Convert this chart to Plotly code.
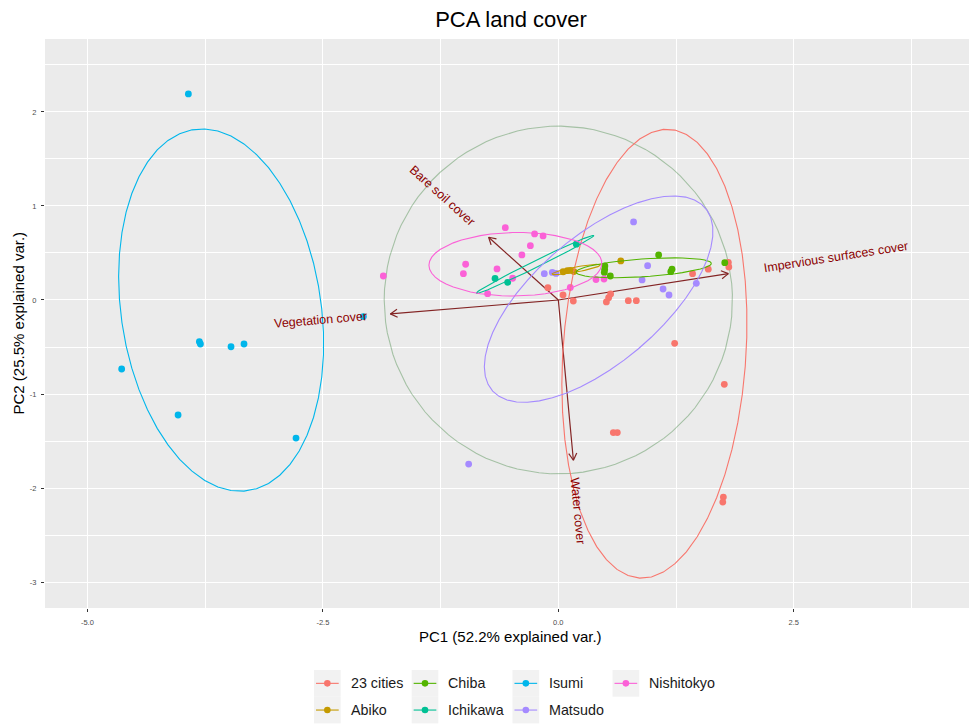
import math
import numpy as np
import plotly.graph_objects as go

# ---------------------------------------------------------------- data
groups = ["23 cities", "Abiko", "Chiba", "Ichikawa", "Isumi", "Matsudo", "Nishitokyo"]
group_colors = ["#F8766D", "#C49A00", "#53B400", "#00C094", "#00B6EB", "#A58AFF", "#FB61D7"]

# PCA scores of the sampled sites, one pair of lists per group
pc1_cities23 = [-0.111, 0.050, 0.159, 0.510, 0.534, 0.555, 0.743, 0.828, 1.235,
                1.425, 1.592, 1.805, 1.810, 1.762, 0.584, 0.626, 1.752, 1.746]
pc2_cities23 = [0.131, 0.053, -0.011, -0.021, 0.024, 0.064, -0.007, -0.007, -0.461,
                0.280, 0.328, 0.399, 0.351, -0.897, -1.410, -1.410, -2.096, -2.149]

pc1_abiko = [0.051, 0.096, 0.127, 0.165, 0.663]
pc2_abiko = [0.300, 0.313, 0.315, 0.302, 0.415]

pc1_chiba = [0.494, 0.492, 0.488, 0.552, 1.065, 1.207, 1.194, 1.767]
pc2_chiba = [0.362, 0.324, 0.293, 0.255, 0.479, 0.327, 0.301, 0.397]

pc1_ichikawa = [0.191, -0.672, -0.538]
pc2_ichikawa = [0.593, 0.229, 0.188]

pc1_isumi = [-3.928, -4.636, -4.037, -3.811, -3.800, -3.475, -3.337, -2.785, -2.070]
pc2_isumi = [2.191, -0.734, -1.223, -0.444, -0.468, -0.497, -0.468, -1.468, -0.176]

pc1_matsudo = [0.799, -0.149, -0.064, -0.024, 0.948, 0.889, 1.112, 1.175, 1.465, -0.952]
pc2_matsudo = [0.830, 0.280, 0.293, 0.282, 0.365, 0.213, 0.117, 0.053, 0.177, -1.745]

pc1_nishitokyo = [-0.563, -0.252, -0.162, -0.297, -0.387, -0.984, -1.008, -0.651,
                  -0.485, -0.751, 0.127, 0.400, 0.485, -1.858]
pc2_nishitokyo = [0.769, 0.702, 0.681, 0.578, 0.479, 0.380, 0.280, 0.330,
                  0.231, 0.067, 0.133, 0.218, 0.223, 0.255]

# normal-data ellipse statistics per group (same order as `groups`)
ell_mean_pc1 = [1.020, 0.189, 0.907, -0.248, -3.580, 0.428, -0.456]
ell_mean_pc2 = [-0.571, 0.324, 0.342, 0.378, -0.107, 0.009, 0.380]
ell_sd_pc1 = [0.651, 0.170, 0.475, 0.413, 0.721, 0.804, 0.608]
ell_sd_pc2 = [1.581, 0.036, 0.070, 0.204, 1.276, 0.727, 0.224]
ell_rho = [0.136, 0.867, 0.442, 0.992, -0.185, 0.655, 0.032]

# variable loadings (arrow ends in score units)
var_names = ["Bare soil cover", "Impervious surfaces cover", "Vegetation cover", "Water cover"]
var_pc1 = [-0.740, 1.805, -1.783, 0.160]
var_pc2 = [0.667, 0.280, -0.148, -1.704]

explained_var = [52.2, 25.5]

x_breaks = [-5.0, -2.5, 0.0, 2.5]
y_breaks = [-3, -2, -1, 0, 1, 2]

# ---------------------------------------------------------------- layout
W, H = 969, 724
M = dict(l=45, r=0, t=39, b=116)
x_range = [-5.45, 4.36]
y_range = [-3.275, 2.775]
ppx = (W - M["l"] - M["r"]) / (x_range[1] - x_range[0])
ppy = (H - M["t"] - M["b"]) / (y_range[1] - y_range[0])

FONT = "Liberation Sans, Arial, sans-serif"
ARROW_COL = "#832424"
LABEL_COL = "#8B0000"

# Arial advance widths (1/1000 em) for label sizing
AW = {" ": 278, "B": 667, "I": 278, "V": 667, "W": 944, "a": 556, "b": 556, "c": 500,
      "d": 556, "e": 556, "f": 278, "g": 556, "i": 222, "l": 222, "m": 833, "n": 556,
      "o": 556, "p": 556, "r": 333, "s": 500, "t": 278, "u": 556, "v": 500, "k": 500,
      "h": 556, "y": 500, "w": 722, "A": 667, "C": 722, "M": 833, "N": 722, "2": 556,
      "3": 556}


def text_w(s, size):
    return sum(AW.get(ch, 556) for ch in s) / 1000.0 * size


def px2paper_x(px):
    return (px - M["l"]) / (W - M["l"] - M["r"])


def py2paper_y(py):
    return (H - M["b"] - py) / (H - M["t"] - M["b"])


scores = [
    (pc1_cities23, pc2_cities23), (pc1_abiko, pc2_abiko), (pc1_chiba, pc2_chiba),
    (pc1_ichikawa, pc2_ichikawa), (pc1_isumi, pc2_isumi), (pc1_matsudo, pc2_matsudo),
    (pc1_nishitokyo, pc2_nishitokyo),
]

fig = go.Figure()

# correlation circle
circle_prob = 0.69
lam = [v / 100 * len(var_names) for v in explained_var]
rad = math.sqrt(-2 * math.log(1 - circle_prob)) * (lam[0] * lam[1]) ** 0.25
tc = np.linspace(-np.pi, np.pi, 100)
fig.add_trace(go.Scatter(x=rad * np.cos(tc), y=rad * np.sin(tc), mode="lines",
                         line=dict(color="rgba(60,130,60,0.40)", width=1.1),
                         hoverinfo="skip", showlegend=False))

# variable arrows: shaft from the origin plus an open head
arrow_x, arrow_y = [], []
head_px = 8.0
for vx, vy in zip(var_pc1, var_pc2):
    arrow_x += [0, vx, None]
    arrow_y += [0, vy, None]
    dx, dy = vx * ppx, vy * ppy
    L = math.hypot(dx, dy)
    ux, uy = dx / L, dy / L
    for sgn in (1, -1):
        a = math.radians(30) * sgn
        bx = -ux * math.cos(a) + uy * math.sin(a)
        by = -ux * math.sin(a) - uy * math.cos(a)
        arrow_x += [vx + bx * head_px / ppx, vx, None]
        arrow_y += [vy + by * head_px / ppy, vy, None]
fig.add_trace(go.Scatter(x=arrow_x, y=arrow_y, mode="lines",
                         line=dict(color=ARROW_COL, width=1.2),
                         hoverinfo="skip", showlegend=False))

# sample points
for g, col, (sx, sy) in zip(groups, group_colors, scores):
    fig.add_trace(go.Scatter(x=sx, y=sy, mode="markers", name=g,
                             marker=dict(color=col, size=6.8, line=dict(width=0)),
                             showlegend=False))

# group ellipses (68 % normal probability)
ed = math.sqrt(-2 * math.log(1 - 0.68))
te = np.linspace(-np.pi, np.pi, 50)
for g, col, mx, my, sdx, sdy, rho in zip(groups, group_colors, ell_mean_pc1, ell_mean_pc2,
                                         ell_sd_pc1, ell_sd_pc2, ell_rho):
    r11, r12, r22 = sdx, rho * sdy, sdy * math.sqrt(1 - rho ** 2)
    ex = mx + ed * np.cos(te) * r11
    ey = my + ed * (np.cos(te) * r12 + np.sin(te) * r22)
    fig.add_trace(go.Scatter(x=ex, y=ey, mode="lines", line=dict(color=col, width=1.1),
                             hoverinfo="skip", showlegend=False))

annotations = []
shapes = []

# variable names along the arrows
lab_size = 12.5
for name, vx, vy in zip(var_names, var_pc1, var_pc2):
    ang = math.degrees(math.atan(vy / vx))
    w = text_w(name, lab_size)
    off = 0.75 * w * (1 if vx > 0 else -1)
    annotations.append(dict(x=vx, y=vy, xref="x", yref="y", text=name, showarrow=False,
                            textangle=-ang, xanchor="center", yanchor="middle",
                            xshift=off * math.cos(math.radians(ang)),
                            yshift=off * math.sin(math.radians(ang)),
                            font=dict(family=FONT, size=lab_size, color=LABEL_COL)))

# axis titles
annotations.append(dict(x=px2paper_x(511), y=py2paper_y(636), xref="paper", yref="paper",
                        text=f"PC1 ({explained_var[0]}% explained var.)", showarrow=False,
                        xanchor="center", yanchor="middle",
                        font=dict(family=FONT, size=15, color="black")))
annotations.append(dict(x=px2paper_x(18), y=0.5, xref="paper", yref="paper",
                        text=f"PC2 ({explained_var[1]}% explained var.)", showarrow=False,
                        textangle=-90, xanchor="center", yanchor="middle",
                        font=dict(family=FONT, size=15, color="black")))

# legend (two rows, filled column by column)
leg_size = 14.3
key = 26.7
leg_left = 314
row_top = [670, 696.7]
ncol = math.ceil(len(groups) / 2)
col_x = []
xpos = leg_left
for c in range(ncol):
    col_x.append(xpos)
    items = groups[2 * c:2 * c + 2]
    xpos += key + 8 + max(text_w(t, leg_size) for t in items) + 10.5
for i, (g, col) in enumerate(zip(groups, group_colors)):
    c, r = i // 2, i % 2
    x0, y0 = col_x[c], row_top[r]
    shapes.append(dict(type="rect", xref="paper", yref="paper",
                       x0=px2paper_x(x0), x1=px2paper_x(x0 + key),
                       y0=py2paper_y(y0 + key), y1=py2paper_y(y0),
                       fillcolor="#F2F2F2", line=dict(width=0), layer="above"))
    cy = y0 + key / 2
    shapes.append(dict(type="line", xref="paper", yref="paper",
                       x0=px2paper_x(x0 + 2), x1=px2paper_x(x0 + key - 2),
                       y0=py2paper_y(cy), y1=py2paper_y(cy),
                       line=dict(color=col, width=1.1), layer="above"))
    shapes.append(dict(type="circle", xref="paper", yref="paper",
                       xsizemode="pixel", ysizemode="pixel",
                       xanchor=px2paper_x(x0 + key / 2), yanchor=py2paper_y(cy),
                       x0=-3.3, x1=3.3, y0=-3.3, y1=3.3,
                       fillcolor=col, line=dict(width=0), layer="above"))
    annotations.append(dict(x=px2paper_x(x0 + key + 8), y=py2paper_y(cy), xref="paper",
                            yref="paper", text=g, showarrow=False, xanchor="left",
                            yanchor="middle",
                            font=dict(family=FONT, size=leg_size, color="#1A1A1A")))

fig.update_layout(
    width=W, height=H, margin=M,
    paper_bgcolor="white", plot_bgcolor="#EBEBEB",
    title=dict(text="PCA land cover", x=511 / W, xanchor="center", y=1 - 19 / H,
               yanchor="middle", font=dict(family=FONT, size=22, color="black")),
    xaxis=dict(range=x_range, tickvals=x_breaks, ticktext=[f"{v:.1f}" for v in x_breaks],
               showgrid=True, gridcolor="white", gridwidth=1.4, zeroline=False,
               ticks="outside", ticklen=3, tickcolor="#333333", tickwidth=1,
               ticklabelstandoff=4,
               tickfont=dict(family=FONT, size=7.5, color="#4D4D4D"),
               minor=dict(tickvals=[-3.75, -1.25, 1.25, 3.75], showgrid=True,
                          gridcolor="white", gridwidth=0.9, ticks=""),
               showline=False),
    yaxis=dict(range=y_range, tickvals=y_breaks, ticktext=[str(v) for v in y_breaks],
               showgrid=True, gridcolor="white", gridwidth=1.4, zeroline=False,
               ticks="outside", ticklen=3, tickcolor="#333333", tickwidth=1,
               ticklabelstandoff=3,
               tickfont=dict(family=FONT, size=7.5, color="#4D4D4D"),
               minor=dict(tickvals=[-2.5, -1.5, -0.5, 0.5, 1.5, 2.5], showgrid=True,
                          gridcolor="white", gridwidth=0.9, ticks=""),
               showline=False),
    annotations=annotations, shapes=shapes, showlegend=False,
)

fig.write_html("out.html")
